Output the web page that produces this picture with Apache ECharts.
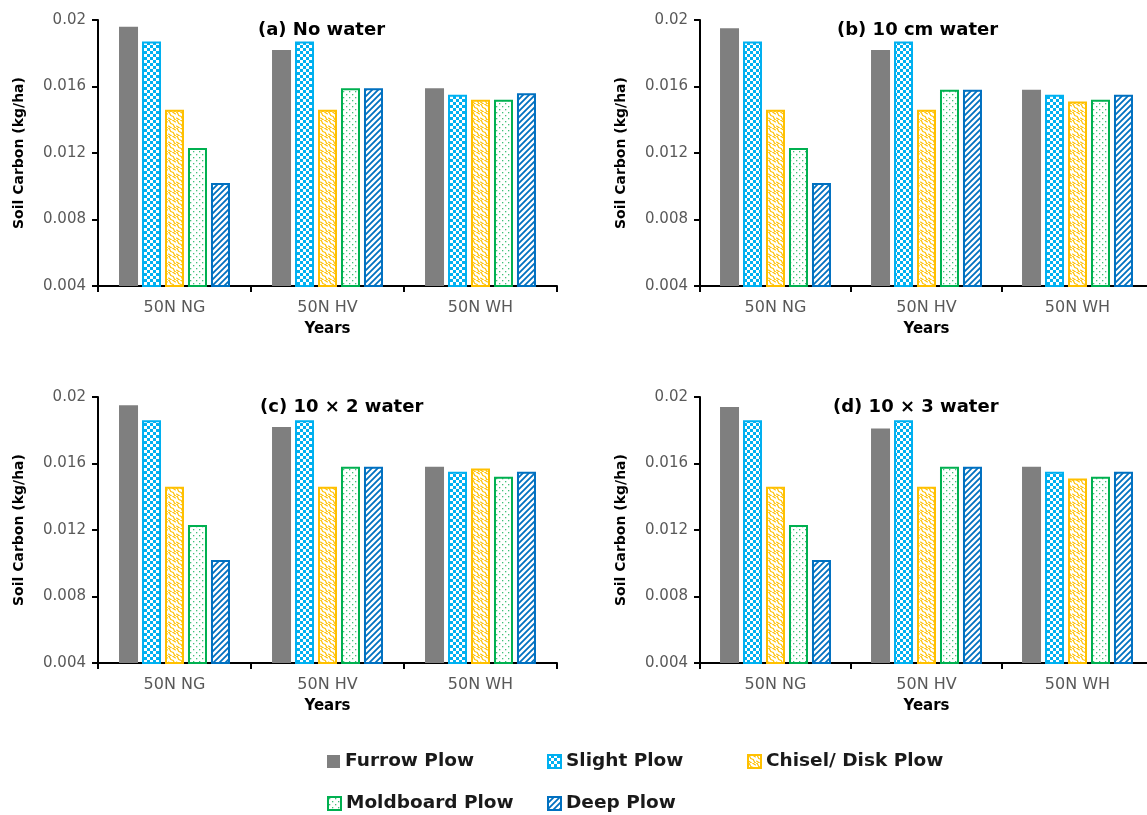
<!DOCTYPE html>
<html>
<head>
<meta charset="utf-8">
<script src="https://cdn.jsdelivr.net/npm/echarts@6/dist/echarts.min.js"></script>
<style>
html,body{margin:0;padding:0;background:#fff;overflow:hidden;width:1147px;height:815px;}
#chart{width:1160px;height:815px;}
</style>
</head>
<body>
<div id="chart"></div>
<script>
const categories = ['50N NG', '50N HV', '50N WH'];
const seriesNames = ['Furrow Plow', 'Slight Plow', 'Chisel/ Disk Plow', 'Moldboard Plow', 'Deep Plow'];
const panelTitles = ['(a) No water', '(b) 10 cm water', '(c) 10 \u00d7 2 water', '(d) 10 \u00d7 3 water'];
const yTickLabels = ['0.004', '0.008', '0.012', '0.016', '0.02'];
const yAxisName = 'Soil Carbon (kg/ha)';
const xAxisName = 'Years';

// values per panel: rows = series (Furrow, Slight, Chisel, Moldboard, Deep), cols = categories
const panelA = [
  [0.0196, 0.0182, 0.0159],
  [0.0187, 0.0187, 0.0155],
  [0.0146, 0.0146, 0.0152],
  [0.0123, 0.0159, 0.0152],
  [0.0102, 0.0159, 0.0156]
];
const panelB = [
  [0.0195, 0.0182, 0.0158],
  [0.0187, 0.0187, 0.0155],
  [0.0146, 0.0146, 0.0151],
  [0.0123, 0.0158, 0.0152],
  [0.0102, 0.0158, 0.0155]
];
const panelC = [
  [0.0195, 0.0182, 0.0158],
  [0.0186, 0.0186, 0.0155],
  [0.0146, 0.0146, 0.0157],
  [0.0123, 0.0158, 0.0152],
  [0.0102, 0.0158, 0.0155]
];
const panelD = [
  [0.0194, 0.0181, 0.0158],
  [0.0186, 0.0186, 0.0155],
  [0.0146, 0.0146, 0.0151],
  [0.0123, 0.0158, 0.0152],
  [0.0102, 0.0158, 0.0155]
];
const panels = [panelA, panelB, panelC, panelD];

function tile(w, h, draw) {
  const c = document.createElement('canvas');
  c.width = w; c.height = h;
  const ctx = c.getContext('2d');
  ctx.fillStyle = '#ffffff';
  ctx.fillRect(0, 0, w, h);
  draw(ctx);
  return c;
}
const checkerTile = tile(6, 6, ctx => {
  ctx.fillStyle = '#00b0f0';
  ctx.fillRect(0, 0, 6, 6);
  ctx.fillStyle = '#ffffff';
  ctx.fillRect(0, 0, 3, 3);
  ctx.fillRect(3, 3, 3, 3);
});
const waveTile = tile(8, 8, ctx => {
  ctx.strokeStyle = '#ffc000';
  ctx.lineWidth = 1.1;
  ctx.beginPath();
  ctx.moveTo(0, 0); ctx.bezierCurveTo(3, 0, 1, 4, 4, 4); ctx.bezierCurveTo(7, 4, 5, 8, 8, 8);
  ctx.moveTo(4, 0); ctx.bezierCurveTo(6, 0, 6, 2, 8, 2);
  ctx.moveTo(0, 6); ctx.bezierCurveTo(2, 6, 2, 8, 4, 8);
  ctx.stroke();
});
const dotTile = tile(6, 6, ctx => {
  ctx.fillStyle = '#40c078';
  ctx.fillRect(1, 1, 1.3, 1.3);
  ctx.fillRect(4, 4, 1.3, 1.3);
});
const diagTile = tile(6, 6, ctx => {
  ctx.strokeStyle = '#0070c0';
  ctx.lineWidth = 1.8;
  ctx.beginPath();
  ctx.moveTo(-1, 7); ctx.lineTo(7, -1);
  ctx.moveTo(-4, 4); ctx.lineTo(4, -4);
  ctx.moveTo(2, 10); ctx.lineTo(10, 2);
  ctx.stroke();
});

const seriesStyles = [
  { color: '#7f7f7f', borderColor: '#7f7f7f', borderWidth: 0 },
  { color: { image: checkerTile, repeat: 'repeat' }, borderColor: '#00b0f0', borderWidth: 2 },
  { color: { image: waveTile, repeat: 'repeat' }, borderColor: '#ffc000', borderWidth: 2 },
  { color: { image: dotTile, repeat: 'repeat' }, borderColor: '#00b050', borderWidth: 2 },
  { color: { image: diagTile, repeat: 'repeat' }, borderColor: '#0070c0', borderWidth: 2 }
];

const FONT = 'DejaVu Sans';
const grids = [
  { left: 98, top: 20, width: 459, height: 266 },
  { left: 700, top: 20, width: 453, height: 266 },
  { left: 98, top: 397, width: 459, height: 266 },
  { left: 700, top: 397, width: 453, height: 266 }
];
const titlePos = [[253, 16], [832, 16], [255, 393], [828, 393]];

const xAxes = [], yAxes = [], series = [], titles = [];
for (let p = 0; p < 4; p++) {
  xAxes.push({
    gridIndex: p, type: 'category', data: categories,
    axisLine: { lineStyle: { color: '#000', width: 2 } },
    axisTick: { show: true, length: 6, lineStyle: { color: '#000', width: 2 } },
    axisLabel: { color: '#595959', fontSize: 16, fontFamily: FONT, margin: 14 },
    name: xAxisName, nameLocation: 'middle', nameGap: 36,
    nameTextStyle: { color: '#000', fontSize: 15, fontWeight: 'bold', fontFamily: FONT }
  });
  yAxes.push({
    gridIndex: p, type: 'value', min: 0.004, max: 0.02, interval: 0.004,
    axisLine: { show: true, lineStyle: { color: '#000', width: 2 } },
    axisTick: { show: true, length: 6, lineStyle: { color: '#000', width: 2 } },
    splitLine: { show: false },
    axisLabel: { color: '#595959', fontSize: 15, fontFamily: FONT, margin: 12,
      formatter: (v, i) => yTickLabels[i] },
    name: yAxisName, nameLocation: 'middle', nameGap: 72,
    nameTextStyle: { color: '#000', fontSize: 14, fontWeight: 'bold', fontFamily: FONT }
  });
  titles.push({
    text: panelTitles[p], left: titlePos[p][0], top: titlePos[p][1],
    textStyle: { color: '#000', fontSize: 18, fontWeight: 'bold', fontFamily: FONT }
  });
  for (let s = 0; s < 5; s++) {
    series.push({
      type: 'bar', name: seriesNames[s], xAxisIndex: p, yAxisIndex: p,
      data: panels[p][s], barWidth: 19, barGap: '21%',
      itemStyle: seriesStyles[s], emphasis: { disabled: true }
    });
  }
}

const legendPos = [[327, 752], [547, 752], [747, 752], [327, 794], [547, 794]];
const legends = seriesNames.map((n, i) => ({
  data: [n], left: legendPos[i][0], top: legendPos[i][1], icon: 'rect',
  itemWidth: 13, itemHeight: 13, itemGap: 5, padding: 0,
  textStyle: { color: '#1a1a1a', fontSize: 18.5, fontWeight: 'bold', fontFamily: FONT, padding: [0, 0, 0, 0] }
}));

const chart = echarts.init(document.getElementById('chart'), null, { renderer: 'canvas' });
chart.setOption({
  animation: false,
  backgroundColor: '#fff',
  title: titles,
  grid: grids,
  xAxis: xAxes,
  yAxis: yAxes,
  legend: legends,
  series: series
});
</script>
</body>
</html>
